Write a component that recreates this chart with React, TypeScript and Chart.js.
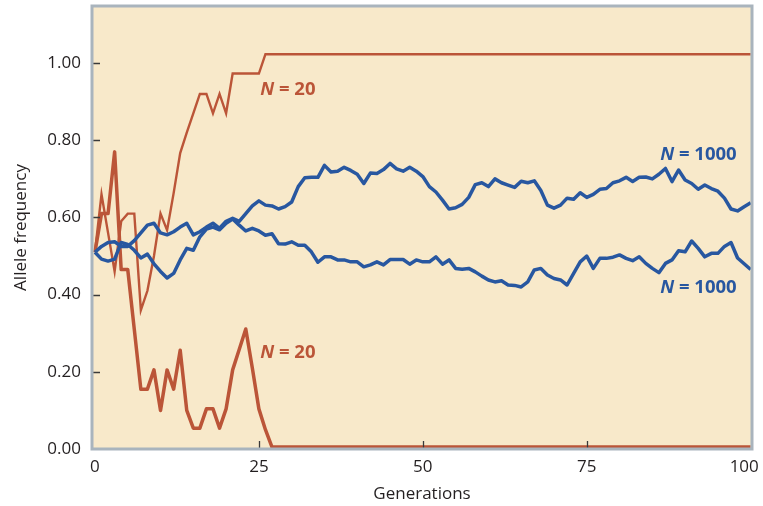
import React, { useEffect, useRef } from "react";
import { Chart, registerables } from "chart.js";

Chart.register(...registerables);

// ---- data ----
const blueGenerations = Array.from({ length: 101 }, (_, i) => i);

const blueUpper = [
  0.51, 0.525, 0.535, 0.537, 0.525, 0.525, 0.54, 0.56, 0.58, 0.585,
  0.56, 0.555, 0.563, 0.575, 0.585, 0.555, 0.563, 0.575, 0.585, 0.572,
  0.59, 0.598, 0.59, 0.61, 0.63, 0.643, 0.632, 0.63, 0.622, 0.628,
  0.64, 0.68, 0.703, 0.704, 0.704, 0.735, 0.718, 0.72, 0.73, 0.722,
  0.712, 0.688, 0.715, 0.714, 0.724, 0.74, 0.726, 0.72, 0.73, 0.72,
  0.706, 0.68, 0.666, 0.645, 0.622, 0.625, 0.634, 0.652, 0.685, 0.69,
  0.68, 0.70, 0.69, 0.684, 0.678, 0.694, 0.69, 0.695, 0.67, 0.632,
  0.624, 0.632, 0.65, 0.647, 0.664, 0.652, 0.66, 0.673, 0.675, 0.69,
  0.695, 0.704, 0.693, 0.704, 0.705, 0.70, 0.712, 0.727, 0.693, 0.723,
  0.697, 0.688, 0.673, 0.684, 0.675, 0.668, 0.65, 0.622, 0.617, 0.628,
  0.638,
];

const blueLower = [
  0.51, 0.492, 0.487, 0.492, 0.535, 0.53, 0.515, 0.495, 0.505, 0.48,
  0.46, 0.443, 0.455, 0.49, 0.52, 0.515, 0.55, 0.57, 0.575, 0.568,
  0.585, 0.596, 0.58, 0.565, 0.572, 0.565, 0.554, 0.558, 0.532, 0.531,
  0.537, 0.528, 0.528, 0.511, 0.484, 0.498, 0.498, 0.49, 0.49, 0.485,
  0.485, 0.472, 0.477, 0.485, 0.477, 0.491, 0.491, 0.491, 0.479, 0.49,
  0.485, 0.485, 0.498, 0.479, 0.49, 0.468, 0.466, 0.468, 0.459, 0.448,
  0.438, 0.433, 0.436, 0.425, 0.424, 0.42, 0.433, 0.464, 0.468, 0.451,
  0.442, 0.438, 0.425, 0.455, 0.485, 0.50, 0.468, 0.494, 0.494, 0.497,
  0.503, 0.494, 0.488, 0.498, 0.481, 0.468, 0.457, 0.481, 0.49, 0.514,
  0.511, 0.539, 0.52, 0.498, 0.507, 0.507, 0.525, 0.535, 0.495, 0.48,
  0.465,
];

const redFixedGenerations = [0, 1, 2, 3, 4, 5, 6, 7, 8, 9, 10, 11, 12, 13, 14, 15, 16, 17, 18, 19, 20, 21, 25, 26, 100];
const redFixedValues = [
  0.51, 0.66, 0.56, 0.46, 0.59, 0.61, 0.61, 0.36, 0.41, 0.50, 0.61, 0.567, 0.663,
  0.767, 0.82, 0.87, 0.92, 0.92, 0.87, 0.92, 0.87, 0.973, 0.973, 1.023, 1.023,
];

const redLostGenerations = [0, 1, 2, 3, 4, 5, 6, 7, 8, 9, 10, 11, 12, 13, 14, 15, 16, 17, 18, 19, 20, 21, 22, 23, 24, 25, 26, 27, 100];
const redLostValues = [
  0.51, 0.61, 0.61, 0.77, 0.465, 0.465, 0.31, 0.155, 0.155, 0.205, 0.10, 0.205, 0.155,
  0.256, 0.10, 0.054, 0.054, 0.104, 0.104, 0.054, 0.104, 0.205, 0.258, 0.311, 0.21,
  0.104, 0.05, 0.005, 0.005,
];

const xTickValues = [0, 25, 50, 75, 100];
const yTickValues = [0, 0.2, 0.4, 0.6, 0.8, 1.0];

const labels = [
  { g: 25.2, v: 0.917, size: "20", series: "red" },
  { g: 25.2, v: 0.236, size: "20", series: "red" },
  { g: 86.2, v: 0.75, size: "1000", series: "blue" },
  { g: 86.2, v: 0.404, size: "1000", series: "blue" },
];

// ---- styles ----
const RED = "#bb5538";
const BLUE = "#2857a0";
const BG = "#f8e9ca";
const FRAME = "#a9b4bd";
const TEXT = "#231f20";
const FONT = "'Open Sans', 'Noto Sans', sans-serif";

const toPoints = (xs: number[], ys: number[]) => xs.map((x, i) => ({ x, y: ys[i] }));

const framePlugin = {
  id: "frame",
  beforeDatasetsDraw(chart: any) {
    const { ctx, chartArea: a } = chart;
    ctx.save();
    ctx.fillStyle = BG;
    ctx.fillRect(a.left, a.top, a.right - a.left, a.bottom - a.top);
    ctx.restore();
  },
  afterDatasetsDraw(chart: any) {
    const { ctx, chartArea: a } = chart;
    const xs = chart.scales.x;
    const ys = chart.scales.y;
    ctx.save();
    // inner tick marks
    ctx.strokeStyle = "#3a3a3a";
    ctx.lineWidth = 1.3;
    ctx.beginPath();
    yTickValues.forEach((v) => {
      if (v <= 0) return;
      const py = Math.round(ys.getPixelForValue(v)) + 0.5;
      ctx.moveTo(a.left, py);
      ctx.lineTo(a.left + 8, py);
    });
    xTickValues.forEach((g) => {
      if (g <= 0 || g >= 100) return;
      const px = Math.round(xs.getPixelForValue(g)) + 0.5;
      ctx.moveTo(px, a.bottom);
      ctx.lineTo(px, a.bottom - 8);
    });
    ctx.stroke();
    // frame
    ctx.strokeStyle = FRAME;
    ctx.lineWidth = 3;
    ctx.strokeRect(a.left, a.top, a.right - a.left, a.bottom - a.top);
    // annotations
    labels.forEach((l) => {
      const px = xs.getPixelForValue(l.g);
      const py = ys.getPixelForValue(l.v);
      ctx.fillStyle = l.series === "red" ? RED : BLUE;
      ctx.textBaseline = "alphabetic";
      ctx.textAlign = "left";
      ctx.font = `italic bold 18.5px ${FONT}`;
      ctx.fillText("N", px, py);
      const w = ctx.measureText("N").width;
      ctx.font = `bold 18.5px ${FONT}`;
      ctx.fillText(" = " + l.size, px + w, py);
    });
    ctx.restore();
  },
};

export default function App() {
  const ref = useRef<HTMLCanvasElement | null>(null);

  useEffect(() => {
    if (!ref.current) return;
    const chart = new Chart(ref.current, {
      type: "line",
      data: {
        datasets: [
          {
            label: "N = 1000 (a)",
            data: toPoints(blueGenerations, blueUpper),
            borderColor: BLUE,
            borderWidth: 3.5,
            pointRadius: 0,
            tension: 0,
            borderJoinStyle: "round",
          },
          {
            label: "N = 1000 (b)",
            data: toPoints(blueGenerations, blueLower),
            borderColor: BLUE,
            borderWidth: 3.5,
            pointRadius: 0,
            tension: 0,
            borderJoinStyle: "round",
          },
          {
            label: "N = 20 (fixed)",
            data: toPoints(redFixedGenerations, redFixedValues),
            borderColor: RED,
            borderWidth: 2.4,
            pointRadius: 0,
            tension: 0,
          },
          {
            label: "N = 20 (lost)",
            data: toPoints(redLostGenerations, redLostValues),
            borderColor: RED,
            borderWidth: 3.5,
            pointRadius: 0,
            tension: 0,
            borderJoinStyle: "round",
          },
        ],
      },
      options: {
        responsive: false,
        animation: false,
        layout: { padding: { top: 6, right: 11, left: 0, bottom: 0 } },
        plugins: {
          legend: { display: false },
          tooltip: { enabled: false },
        },
        scales: {
          x: {
            type: "linear",
            min: -0.45,
            max: 100.2,
            afterBuildTicks: (s: any) => {
              s.ticks = xTickValues.map((v) => ({ value: v }));
            },
            afterFit: (s: any) => {
              s.height = 57;
              s.paddingLeft = 0;
              s.paddingRight = 0;
            },
            grid: { display: false, drawTicks: false },
            border: { display: false },
            ticks: {
              color: TEXT,
              font: { family: FONT, size: 17 },
              padding: 8,
              maxRotation: 0,
              autoSkip: false,
              callback: (v: any) => (Number(v) === 100 ? "100\u2002 " : String(v)),
            },
            title: {
              display: true,
              text: "Generations",
              color: TEXT,
              font: { family: FONT, size: 17 },
              padding: { top: 0, bottom: 2 },
            },
          },
          y: {
            type: "linear",
            min: 0,
            max: 1.148,
            afterBuildTicks: (s: any) => {
              s.ticks = yTickValues.map((v) => ({ value: v }));
            },
            afterFit: (s: any) => {
              s.width = 92;
              s.paddingTop = 0;
              s.paddingBottom = 0;
            },
            grid: { display: false, drawTicks: false },
            border: { display: false },
            ticks: {
              color: TEXT,
              font: { family: FONT, size: 17 },
              padding: 11,
              callback: (v: any) => Number(v).toFixed(2),
            },
            title: {
              display: true,
              text: "Allele frequency",
              color: TEXT,
              font: { family: FONT, size: 17 },
              padding: { top: 11, bottom: 0 },
            },
          },
        },
      },
      plugins: [framePlugin],
    } as any);
    return () => chart.destroy();
  }, []);

  return (
    <div style={{ position: "fixed", left: 0, top: 0, width: 763, height: 506, background: "#fff" }}>
      <canvas ref={ref} width={763} height={506} style={{ display: "block", width: 763, height: 506 }} />
    </div>
  );
}
